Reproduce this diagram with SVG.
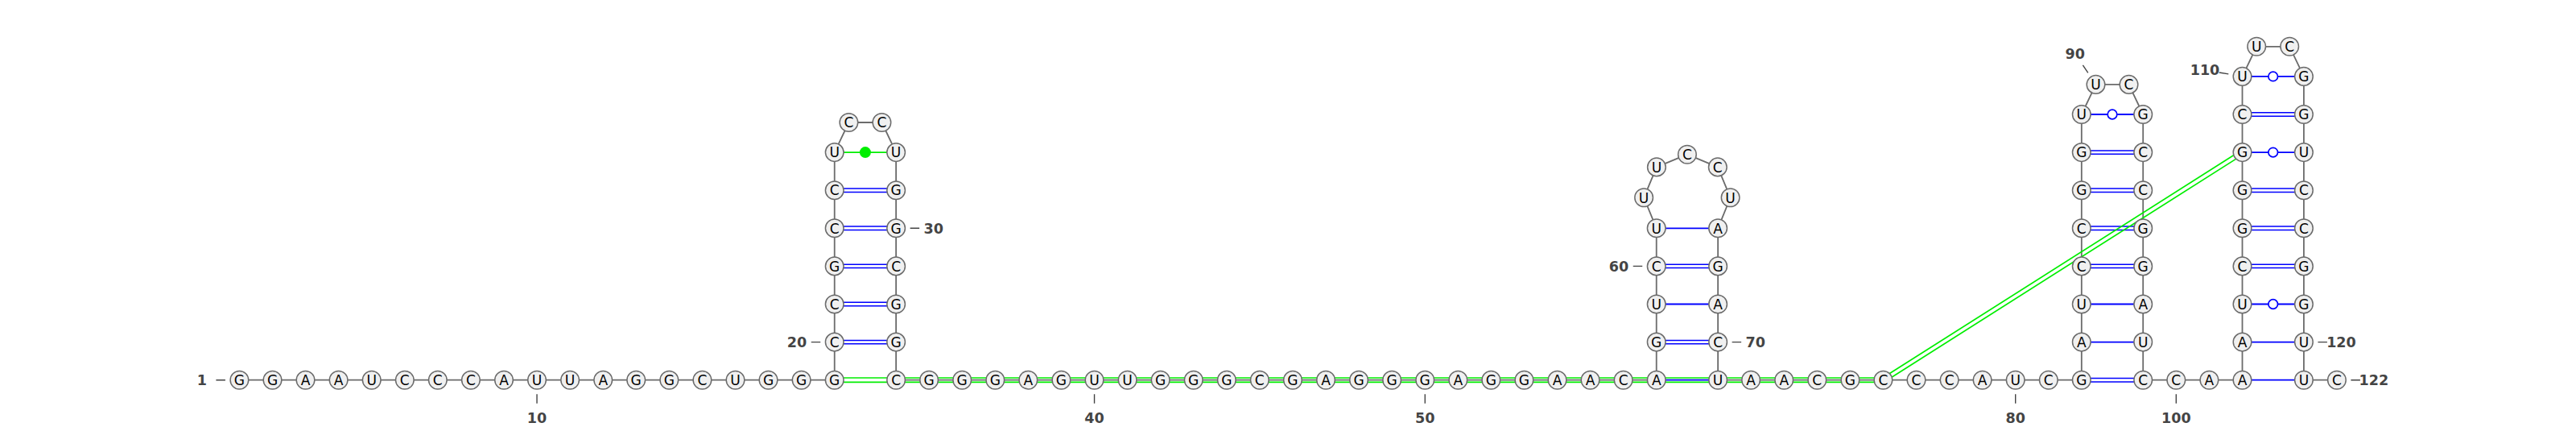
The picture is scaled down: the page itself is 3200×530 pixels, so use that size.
<svg xmlns="http://www.w3.org/2000/svg" width="3200" height="530" viewBox="0 0 3200 530">
<style>
.bb{fill:none;stroke:#6b6b6b;stroke-width:1.8;stroke-linejoin:round}
.p2{fill:none;stroke:#0000ff;stroke-width:1.5}
.p1{fill:none;stroke:#0000ff;stroke-width:1.8}
.gu{fill:#ffffff;stroke:#0000ff;stroke-width:1.7}
.pk{fill:none;stroke:#00ee00;stroke-width:1.7}
.nc{fill:#00ee00}
.nt circle{fill:#f0f0f0;stroke:#6b6b6b;stroke-width:1.5}
.nt text{font-family:"DejaVu Sans",Verdana,sans-serif;font-size:17px;fill:#000;text-anchor:middle}
.num text{font-family:"DejaVu Sans",sans-serif;font-weight:bold;font-size:17.5px;fill:#444;text-anchor:middle}
.tick{fill:none;stroke:#444;stroke-width:1.4}
</style>
<rect width="3200" height="530" fill="#fff"/>
<g id="connectors">
<polyline class="bb" points="297.4,471.7 1036.7,471.7 1036.7,189.1 1054.4,152.0 1095.4,152.0 1113.1,189.1 1113.1,471.7 2057.7,471.7 2057.7,283.3 2042.1,245.3 2057.9,207.4 2095.9,191.7 2133.8,207.4 2149.6,245.3 2134.1,283.3 2134.1,471.7 2585.8,471.7 2585.8,142.0 2603.5,104.9 2644.5,104.9 2662.2,142.0 2662.2,471.7 2785.5,471.7 2785.5,94.9 2803.2,57.8 2844.2,57.8 2861.9,94.9 2861.9,471.7 2902.9,471.7"/>
<path class="p2" d="M1036.7,422.4H1113.1M1036.7,426.8H1113.1M1036.7,375.3H1113.1M1036.7,379.7H1113.1M1036.7,328.2H1113.1M1036.7,332.6H1113.1M1036.7,281.1H1113.1M1036.7,285.5H1113.1M1036.7,234.0H1113.1M1036.7,238.4H1113.1"/>
<path class="p2" d="M2057.7,422.4H2134.1M2057.7,426.8H2134.1M2057.7,328.2H2134.1M2057.7,332.6H2134.1"/>
<path class="p2" d="M2585.8,469.5H2662.2M2585.8,473.9H2662.2M2585.8,328.2H2662.2M2585.8,332.6H2662.2M2585.8,281.1H2662.2M2585.8,285.5H2662.2M2585.8,234.0H2662.2M2585.8,238.4H2662.2M2585.8,186.9H2662.2M2585.8,191.3H2662.2"/>
<path class="p2" d="M2785.5,328.2H2861.9M2785.5,332.6H2861.9M2785.5,281.1H2861.9M2785.5,285.5H2861.9M2785.5,234.0H2861.9M2785.5,238.4H2861.9M2785.5,139.8H2861.9M2785.5,144.2H2861.9"/>
<path class="p1" d="M2057.7,471.7H2134.1M2057.7,377.5H2134.1M2057.7,283.3H2134.1M2585.8,424.6H2662.2M2585.8,377.5H2662.2M2785.5,471.7H2861.9M2785.5,424.6H2861.9"/>
<path class="p1" d="M2585.8,142.0H2662.2M2785.5,377.5H2861.9M2785.5,189.1H2861.9M2785.5,94.9H2861.9"/>
<circle class="gu" cx="2624.0" cy="142.0" r="5.8"/>
<circle class="gu" cx="2823.7" cy="377.5" r="5.8"/>
<circle class="gu" cx="2823.7" cy="189.1" r="5.8"/>
<circle class="gu" cx="2823.7" cy="94.9" r="5.8"/>
<path class="pk" d="M1036.7,189.1H1113.1"/>
<circle class="nc" cx="1074.9" cy="189.1" r="7"/>
<path class="pk" d="M1036.7,469.0H2339.4M1036.7,474.4H2339.4"/>
<path class="pk" d="M2340.85,473.98L2786.95,191.38M2337.96,469.42L2784.06,186.82"/>
</g>
<g id="nodes">
<g id="n1" class="nt"><circle cx="297.4" cy="471.7" r="11.3"/><text x="297.4" y="477.9">G</text></g>
<g id="n2" class="nt"><circle cx="338.5" cy="471.7" r="11.3"/><text x="338.5" y="477.9">G</text></g>
<g id="n3" class="nt"><circle cx="379.5" cy="471.7" r="11.3"/><text x="379.5" y="477.9">A</text></g>
<g id="n4" class="nt"><circle cx="420.6" cy="471.7" r="11.3"/><text x="420.6" y="477.9">A</text></g>
<g id="n5" class="nt"><circle cx="461.7" cy="471.7" r="11.3"/><text x="461.7" y="477.9">U</text></g>
<g id="n6" class="nt"><circle cx="502.8" cy="471.7" r="11.3"/><text x="502.8" y="477.9">C</text></g>
<g id="n7" class="nt"><circle cx="543.8" cy="471.7" r="11.3"/><text x="543.8" y="477.9">C</text></g>
<g id="n8" class="nt"><circle cx="584.9" cy="471.7" r="11.3"/><text x="584.9" y="477.9">C</text></g>
<g id="n9" class="nt"><circle cx="626.0" cy="471.7" r="11.3"/><text x="626.0" y="477.9">A</text></g>
<g id="n10" class="nt"><circle cx="667.0" cy="471.7" r="11.3"/><text x="667.0" y="477.9">U</text></g>
<g id="n11" class="nt"><circle cx="708.1" cy="471.7" r="11.3"/><text x="708.1" y="477.9">U</text></g>
<g id="n12" class="nt"><circle cx="749.2" cy="471.7" r="11.3"/><text x="749.2" y="477.9">A</text></g>
<g id="n13" class="nt"><circle cx="790.2" cy="471.7" r="11.3"/><text x="790.2" y="477.9">G</text></g>
<g id="n14" class="nt"><circle cx="831.3" cy="471.7" r="11.3"/><text x="831.3" y="477.9">G</text></g>
<g id="n15" class="nt"><circle cx="872.4" cy="471.7" r="11.3"/><text x="872.4" y="477.9">C</text></g>
<g id="n16" class="nt"><circle cx="913.5" cy="471.7" r="11.3"/><text x="913.5" y="477.9">U</text></g>
<g id="n17" class="nt"><circle cx="954.5" cy="471.7" r="11.3"/><text x="954.5" y="477.9">G</text></g>
<g id="n18" class="nt"><circle cx="995.6" cy="471.7" r="11.3"/><text x="995.6" y="477.9">G</text></g>
<g id="n19" class="nt"><circle cx="1036.7" cy="471.7" r="11.3"/><text x="1036.7" y="477.9">G</text></g>
<g id="n20" class="nt"><circle cx="1036.7" cy="424.6" r="11.3"/><text x="1036.7" y="430.8">C</text></g>
<g id="n21" class="nt"><circle cx="1036.7" cy="377.5" r="11.3"/><text x="1036.7" y="383.7">C</text></g>
<g id="n22" class="nt"><circle cx="1036.7" cy="330.4" r="11.3"/><text x="1036.7" y="336.6">G</text></g>
<g id="n23" class="nt"><circle cx="1036.7" cy="283.3" r="11.3"/><text x="1036.7" y="289.5">C</text></g>
<g id="n24" class="nt"><circle cx="1036.7" cy="236.2" r="11.3"/><text x="1036.7" y="242.4">C</text></g>
<g id="n25" class="nt"><circle cx="1036.7" cy="189.1" r="11.3"/><text x="1036.7" y="195.3">U</text></g>
<g id="n26" class="nt"><circle cx="1054.4" cy="152.0" r="11.3"/><text x="1054.4" y="158.2">C</text></g>
<g id="n27" class="nt"><circle cx="1095.4" cy="152.0" r="11.3"/><text x="1095.4" y="158.2">C</text></g>
<g id="n28" class="nt"><circle cx="1113.1" cy="189.1" r="11.3"/><text x="1113.1" y="195.3">U</text></g>
<g id="n29" class="nt"><circle cx="1113.1" cy="236.2" r="11.3"/><text x="1113.1" y="242.4">G</text></g>
<g id="n30" class="nt"><circle cx="1113.1" cy="283.3" r="11.3"/><text x="1113.1" y="289.5">G</text></g>
<g id="n31" class="nt"><circle cx="1113.1" cy="330.4" r="11.3"/><text x="1113.1" y="336.6">C</text></g>
<g id="n32" class="nt"><circle cx="1113.1" cy="377.5" r="11.3"/><text x="1113.1" y="383.7">G</text></g>
<g id="n33" class="nt"><circle cx="1113.1" cy="424.6" r="11.3"/><text x="1113.1" y="430.8">G</text></g>
<g id="n34" class="nt"><circle cx="1113.1" cy="471.7" r="11.3"/><text x="1113.1" y="477.9">C</text></g>
<g id="n35" class="nt"><circle cx="1154.1" cy="471.7" r="11.3"/><text x="1154.1" y="477.9">G</text></g>
<g id="n36" class="nt"><circle cx="1195.2" cy="471.7" r="11.3"/><text x="1195.2" y="477.9">G</text></g>
<g id="n37" class="nt"><circle cx="1236.3" cy="471.7" r="11.3"/><text x="1236.3" y="477.9">G</text></g>
<g id="n38" class="nt"><circle cx="1277.3" cy="471.7" r="11.3"/><text x="1277.3" y="477.9">A</text></g>
<g id="n39" class="nt"><circle cx="1318.4" cy="471.7" r="11.3"/><text x="1318.4" y="477.9">G</text></g>
<g id="n40" class="nt"><circle cx="1359.5" cy="471.7" r="11.3"/><text x="1359.5" y="477.9">U</text></g>
<g id="n41" class="nt"><circle cx="1400.6" cy="471.7" r="11.3"/><text x="1400.6" y="477.9">U</text></g>
<g id="n42" class="nt"><circle cx="1441.6" cy="471.7" r="11.3"/><text x="1441.6" y="477.9">G</text></g>
<g id="n43" class="nt"><circle cx="1482.7" cy="471.7" r="11.3"/><text x="1482.7" y="477.9">G</text></g>
<g id="n44" class="nt"><circle cx="1523.8" cy="471.7" r="11.3"/><text x="1523.8" y="477.9">G</text></g>
<g id="n45" class="nt"><circle cx="1564.8" cy="471.7" r="11.3"/><text x="1564.8" y="477.9">C</text></g>
<g id="n46" class="nt"><circle cx="1605.9" cy="471.7" r="11.3"/><text x="1605.9" y="477.9">G</text></g>
<g id="n47" class="nt"><circle cx="1647.0" cy="471.7" r="11.3"/><text x="1647.0" y="477.9">A</text></g>
<g id="n48" class="nt"><circle cx="1688.0" cy="471.7" r="11.3"/><text x="1688.0" y="477.9">G</text></g>
<g id="n49" class="nt"><circle cx="1729.1" cy="471.7" r="11.3"/><text x="1729.1" y="477.9">G</text></g>
<g id="n50" class="nt"><circle cx="1770.2" cy="471.7" r="11.3"/><text x="1770.2" y="477.9">G</text></g>
<g id="n51" class="nt"><circle cx="1811.3" cy="471.7" r="11.3"/><text x="1811.3" y="477.9">A</text></g>
<g id="n52" class="nt"><circle cx="1852.3" cy="471.7" r="11.3"/><text x="1852.3" y="477.9">G</text></g>
<g id="n53" class="nt"><circle cx="1893.4" cy="471.7" r="11.3"/><text x="1893.4" y="477.9">G</text></g>
<g id="n54" class="nt"><circle cx="1934.5" cy="471.7" r="11.3"/><text x="1934.5" y="477.9">A</text></g>
<g id="n55" class="nt"><circle cx="1975.5" cy="471.7" r="11.3"/><text x="1975.5" y="477.9">A</text></g>
<g id="n56" class="nt"><circle cx="2016.6" cy="471.7" r="11.3"/><text x="2016.6" y="477.9">C</text></g>
<g id="n57" class="nt"><circle cx="2057.7" cy="471.7" r="11.3"/><text x="2057.7" y="477.9">A</text></g>
<g id="n58" class="nt"><circle cx="2057.7" cy="424.6" r="11.3"/><text x="2057.7" y="430.8">G</text></g>
<g id="n59" class="nt"><circle cx="2057.7" cy="377.5" r="11.3"/><text x="2057.7" y="383.7">U</text></g>
<g id="n60" class="nt"><circle cx="2057.7" cy="330.4" r="11.3"/><text x="2057.7" y="336.6">C</text></g>
<g id="n61" class="nt"><circle cx="2057.7" cy="283.3" r="11.3"/><text x="2057.7" y="289.5">U</text></g>
<g id="n62" class="nt"><circle cx="2042.1" cy="245.3" r="11.3"/><text x="2042.1" y="251.5">U</text></g>
<g id="n63" class="nt"><circle cx="2057.9" cy="207.4" r="11.3"/><text x="2057.9" y="213.6">U</text></g>
<g id="n64" class="nt"><circle cx="2095.9" cy="191.7" r="11.3"/><text x="2095.9" y="197.9">C</text></g>
<g id="n65" class="nt"><circle cx="2133.8" cy="207.4" r="11.3"/><text x="2133.8" y="213.6">C</text></g>
<g id="n66" class="nt"><circle cx="2149.6" cy="245.3" r="11.3"/><text x="2149.6" y="251.5">U</text></g>
<g id="n67" class="nt"><circle cx="2134.1" cy="283.3" r="11.3"/><text x="2134.1" y="289.5">A</text></g>
<g id="n68" class="nt"><circle cx="2134.1" cy="330.4" r="11.3"/><text x="2134.1" y="336.6">G</text></g>
<g id="n69" class="nt"><circle cx="2134.1" cy="377.5" r="11.3"/><text x="2134.1" y="383.7">A</text></g>
<g id="n70" class="nt"><circle cx="2134.1" cy="424.6" r="11.3"/><text x="2134.1" y="430.8">C</text></g>
<g id="n71" class="nt"><circle cx="2134.1" cy="471.7" r="11.3"/><text x="2134.1" y="477.9">U</text></g>
<g id="n72" class="nt"><circle cx="2175.1" cy="471.7" r="11.3"/><text x="2175.1" y="477.9">A</text></g>
<g id="n73" class="nt"><circle cx="2216.2" cy="471.7" r="11.3"/><text x="2216.2" y="477.9">A</text></g>
<g id="n74" class="nt"><circle cx="2257.3" cy="471.7" r="11.3"/><text x="2257.3" y="477.9">C</text></g>
<g id="n75" class="nt"><circle cx="2298.4" cy="471.7" r="11.3"/><text x="2298.4" y="477.9">G</text></g>
<g id="n76" class="nt"><circle cx="2339.4" cy="471.7" r="11.3"/><text x="2339.4" y="477.9">C</text></g>
<g id="n77" class="nt"><circle cx="2380.5" cy="471.7" r="11.3"/><text x="2380.5" y="477.9">C</text></g>
<g id="n78" class="nt"><circle cx="2421.6" cy="471.7" r="11.3"/><text x="2421.6" y="477.9">C</text></g>
<g id="n79" class="nt"><circle cx="2462.6" cy="471.7" r="11.3"/><text x="2462.6" y="477.9">A</text></g>
<g id="n80" class="nt"><circle cx="2503.7" cy="471.7" r="11.3"/><text x="2503.7" y="477.9">U</text></g>
<g id="n81" class="nt"><circle cx="2544.8" cy="471.7" r="11.3"/><text x="2544.8" y="477.9">C</text></g>
<g id="n82" class="nt"><circle cx="2585.8" cy="471.7" r="11.3"/><text x="2585.8" y="477.9">G</text></g>
<g id="n83" class="nt"><circle cx="2585.8" cy="424.6" r="11.3"/><text x="2585.8" y="430.8">A</text></g>
<g id="n84" class="nt"><circle cx="2585.8" cy="377.5" r="11.3"/><text x="2585.8" y="383.7">U</text></g>
<g id="n85" class="nt"><circle cx="2585.8" cy="330.4" r="11.3"/><text x="2585.8" y="336.6">C</text></g>
<g id="n86" class="nt"><circle cx="2585.8" cy="283.3" r="11.3"/><text x="2585.8" y="289.5">C</text></g>
<g id="n87" class="nt"><circle cx="2585.8" cy="236.2" r="11.3"/><text x="2585.8" y="242.4">G</text></g>
<g id="n88" class="nt"><circle cx="2585.8" cy="189.1" r="11.3"/><text x="2585.8" y="195.3">G</text></g>
<g id="n89" class="nt"><circle cx="2585.8" cy="142.0" r="11.3"/><text x="2585.8" y="148.2">U</text></g>
<g id="n90" class="nt"><circle cx="2603.5" cy="104.9" r="11.3"/><text x="2603.5" y="111.1">U</text></g>
<g id="n91" class="nt"><circle cx="2644.5" cy="104.9" r="11.3"/><text x="2644.5" y="111.1">C</text></g>
<g id="n92" class="nt"><circle cx="2662.2" cy="142.0" r="11.3"/><text x="2662.2" y="148.2">G</text></g>
<g id="n93" class="nt"><circle cx="2662.2" cy="189.1" r="11.3"/><text x="2662.2" y="195.3">C</text></g>
<g id="n94" class="nt"><circle cx="2662.2" cy="236.2" r="11.3"/><text x="2662.2" y="242.4">C</text></g>
<g id="n95" class="nt"><circle cx="2662.2" cy="283.3" r="11.3"/><text x="2662.2" y="289.5">G</text></g>
<g id="n96" class="nt"><circle cx="2662.2" cy="330.4" r="11.3"/><text x="2662.2" y="336.6">G</text></g>
<g id="n97" class="nt"><circle cx="2662.2" cy="377.5" r="11.3"/><text x="2662.2" y="383.7">A</text></g>
<g id="n98" class="nt"><circle cx="2662.2" cy="424.6" r="11.3"/><text x="2662.2" y="430.8">U</text></g>
<g id="n99" class="nt"><circle cx="2662.2" cy="471.7" r="11.3"/><text x="2662.2" y="477.9">C</text></g>
<g id="n100" class="nt"><circle cx="2703.3" cy="471.7" r="11.3"/><text x="2703.3" y="477.9">C</text></g>
<g id="n101" class="nt"><circle cx="2744.4" cy="471.7" r="11.3"/><text x="2744.4" y="477.9">A</text></g>
<g id="n102" class="nt"><circle cx="2785.5" cy="471.7" r="11.3"/><text x="2785.5" y="477.9">A</text></g>
<g id="n103" class="nt"><circle cx="2785.5" cy="424.6" r="11.3"/><text x="2785.5" y="430.8">A</text></g>
<g id="n104" class="nt"><circle cx="2785.5" cy="377.5" r="11.3"/><text x="2785.5" y="383.7">U</text></g>
<g id="n105" class="nt"><circle cx="2785.5" cy="330.4" r="11.3"/><text x="2785.5" y="336.6">C</text></g>
<g id="n106" class="nt"><circle cx="2785.5" cy="283.3" r="11.3"/><text x="2785.5" y="289.5">G</text></g>
<g id="n107" class="nt"><circle cx="2785.5" cy="236.2" r="11.3"/><text x="2785.5" y="242.4">G</text></g>
<g id="n108" class="nt"><circle cx="2785.5" cy="189.1" r="11.3"/><text x="2785.5" y="195.3">G</text></g>
<g id="n109" class="nt"><circle cx="2785.5" cy="142.0" r="11.3"/><text x="2785.5" y="148.2">C</text></g>
<g id="n110" class="nt"><circle cx="2785.5" cy="94.9" r="11.3"/><text x="2785.5" y="101.1">U</text></g>
<g id="n111" class="nt"><circle cx="2803.2" cy="57.8" r="11.3"/><text x="2803.2" y="64.0">U</text></g>
<g id="n112" class="nt"><circle cx="2844.2" cy="57.8" r="11.3"/><text x="2844.2" y="64.0">C</text></g>
<g id="n113" class="nt"><circle cx="2861.9" cy="94.9" r="11.3"/><text x="2861.9" y="101.1">G</text></g>
<g id="n114" class="nt"><circle cx="2861.9" cy="142.0" r="11.3"/><text x="2861.9" y="148.2">G</text></g>
<g id="n115" class="nt"><circle cx="2861.9" cy="189.1" r="11.3"/><text x="2861.9" y="195.3">U</text></g>
<g id="n116" class="nt"><circle cx="2861.9" cy="236.2" r="11.3"/><text x="2861.9" y="242.4">C</text></g>
<g id="n117" class="nt"><circle cx="2861.9" cy="283.3" r="11.3"/><text x="2861.9" y="289.5">C</text></g>
<g id="n118" class="nt"><circle cx="2861.9" cy="330.4" r="11.3"/><text x="2861.9" y="336.6">G</text></g>
<g id="n119" class="nt"><circle cx="2861.9" cy="377.5" r="11.3"/><text x="2861.9" y="383.7">G</text></g>
<g id="n120" class="nt"><circle cx="2861.9" cy="424.6" r="11.3"/><text x="2861.9" y="430.8">U</text></g>
<g id="n121" class="nt"><circle cx="2861.9" cy="471.7" r="11.3"/><text x="2861.9" y="477.9">U</text></g>
<g id="n122" class="nt"><circle cx="2902.9" cy="471.7" r="11.3"/><text x="2902.9" y="477.9">C</text></g>
</g>
<g id="numbering" class="num">
<path class="tick" d="M268.4,471.7H279.9M667.0,489.2V500.7M1007.7,424.6H1019.2M1130.6,283.3H1142.1M1359.5,489.2V500.7M1770.2,489.2V500.7M2028.7,330.4H2040.2M2151.6,424.6H2163.1M2503.7,489.2V500.7M2593.8,90.3L2587.4,80.8M2703.3,489.2V500.7M2768.3,91.9L2756.7,90.0M2879.4,424.6H2890.9M2920.4,471.7H2931.9"/>
<text x="250.9" y="478.1">1</text>
<text x="667.0" y="525.4">10</text>
<text x="990.0" y="431.0">20</text>
<text x="1159.8" y="289.7">30</text>
<text x="1359.5" y="525.4">40</text>
<text x="1770.2" y="525.4">50</text>
<text x="2011.0" y="336.8">60</text>
<text x="2180.8" y="431.0">70</text>
<text x="2503.7" y="525.4">80</text>
<text x="2577.8" y="72.6">90</text>
<text x="2703.3" y="525.4">100</text>
<text x="2739.0" y="93.1">110</text>
<text x="2908.4" y="431.0">120</text>
<text x="2948.8" y="478.1">122</text>
</g>
</svg>
